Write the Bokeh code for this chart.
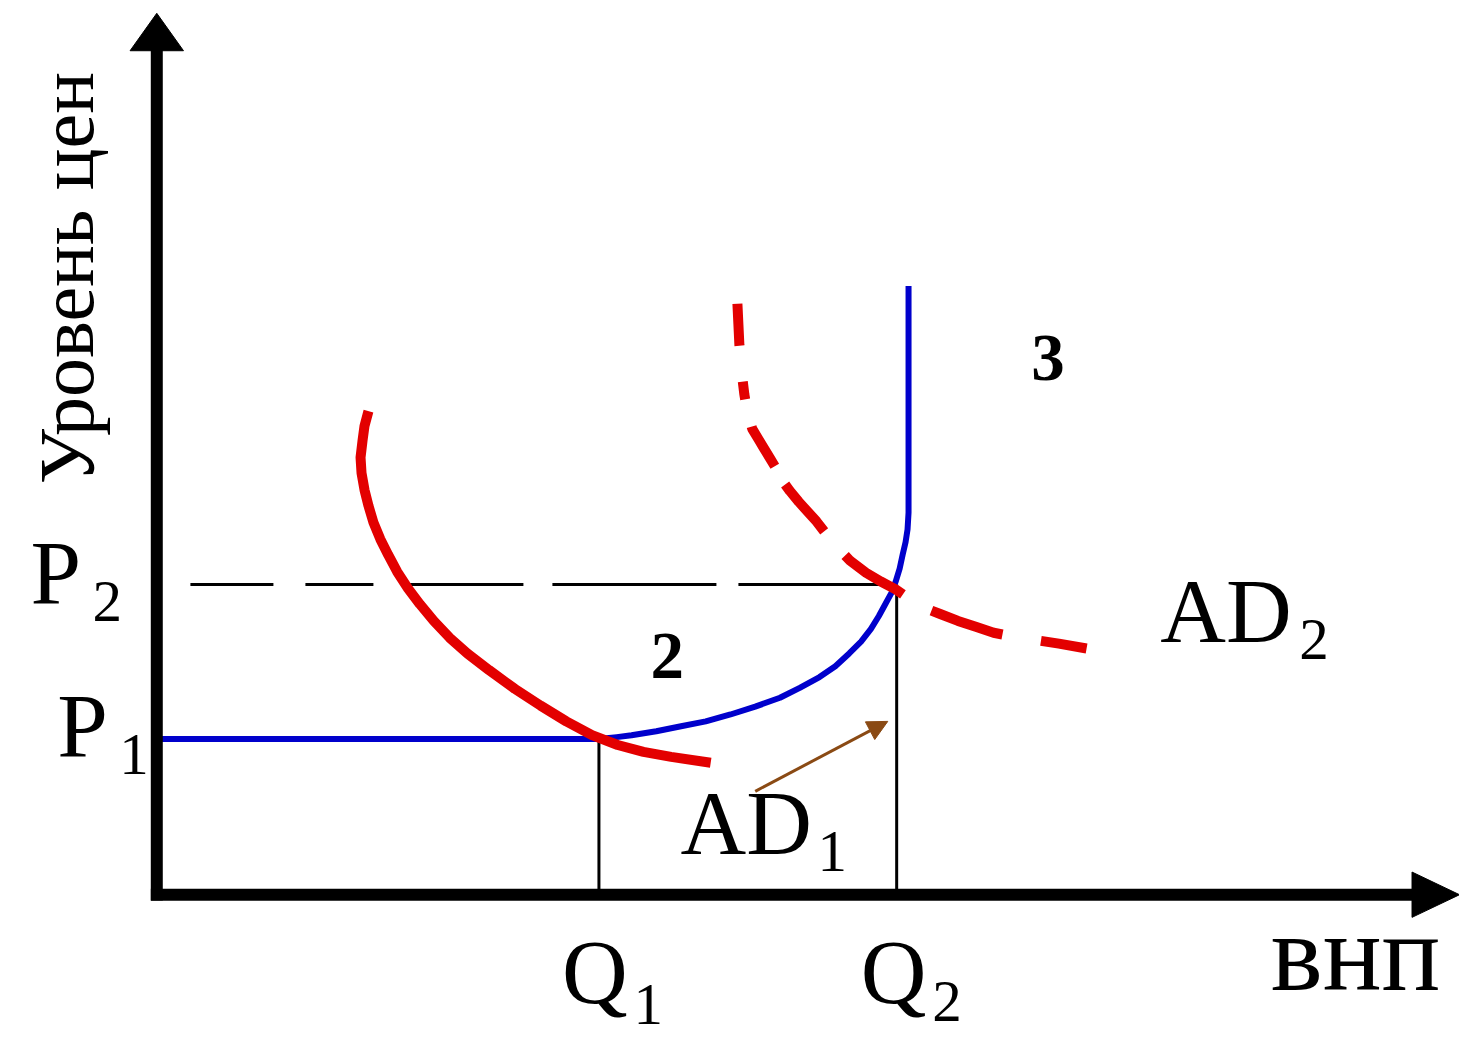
import math
from bokeh.plotting import figure
from bokeh.models import Range1d, Arrow, NormalHead
from bokeh.core.properties import value
from bokeh.embed import file_html
from bokeh.resources import INLINE

# ---- data (diagram units: origin at the axes' corner) ----
P_levels = [158, 315]          # P1, P2
Q_levels = [447, 748]          # Q1, Q2

# aggregate supply (blue): horizontal, then rising, then vertical
as_x = [0, 447, 465, 480, 505, 530, 555, 580, 605, 630, 650, 670, 686, 700, 712, 722,
        730, 737, 743, 747, 751, 754, 757, 759, 760, 760]
as_y = [158, 158, 160, 162, 166, 171, 176, 183, 191, 200, 210, 221, 232, 245, 257, 270,
        283, 296, 307, 318, 331, 345, 358, 371, 388, 618]

# AD1 (solid red)
ad1_x = [214, 210, 208, 206, 207, 210, 214, 219, 226, 234, 243, 254, 266, 280, 296, 314,
         336, 362, 388, 414, 440, 466, 492, 520, 560]
ad1_y = [491, 476, 461, 444, 428, 411, 395, 378, 361, 345, 328, 311, 295, 278, 261, 245,
         228, 209, 192, 176, 162, 152, 145, 140, 134]

# AD2 (dashed red)
ad2_x = [587, 588, 589, 591, 594, 597, 602, 608, 614, 620, 626, 632, 640, 649, 658, 667,
         677, 687, 701, 717, 732, 747, 760, 774, 792, 810, 828, 846, 866, 886, 912, 940]
ad2_y = [600, 579, 558, 533, 508, 490, 473, 463, 453, 443, 433, 421, 410, 399, 389, 379,
         366, 354, 339, 327, 318, 310, 301, 292, 285, 278, 272, 266, 262, 259, 255, 250]

# shift arrow (AD1 -> AD2)
shift_start = (605, 105)
shift_end = (739, 176)

# axes
x_axis_end = 1317
y_axis_end = 895

# texts
y_title = "Уровень цен"
x_title = "внп"
price_main = ["P", "P"]
price_sub = ["1", "2"]
qty_main = ["Q", "Q"]
qty_sub = ["1", "2"]
curve_main = ["AD", "AD"]
curve_sub = ["1", "2"]
region_labels = ["2", "3"]

# ---- figure ----
p = figure(width=1459, height=1037,
           x_range=Range1d(-158, 1317), y_range=Range1d(-145, 908),
           x_axis_type=None, y_axis_type=None,
           output_backend="svg", toolbar_location=None, min_border=0,
           outline_line_color=None, background_fill_color="white",
           border_fill_color="white")

BLACK = "black"
RED = "#e30000"
BLUE = "#0000cc"
BROWN = "#8a4a14"
SERIF = value("Liberation Serif")
K = 0.36  # baseline compensation (em)


def lift(size):
    return K * size


# guide lines
p.line([Q_levels[0], Q_levels[0]], [0, P_levels[0]], line_color=BLACK, line_width=3)
p.line([Q_levels[1], Q_levels[1]], [0, P_levels[1]], line_color=BLACK, line_width=3)
p.line([34, Q_levels[1]], [P_levels[1], P_levels[1]], line_color=BLACK, line_width=3,
       line_dash="83 32 68 36 114 29 164 22 160")

# curves
p.line(as_x, as_y, line_color=BLUE, line_width=6, line_join="round")
p.line(ad1_x, ad1_y, line_color=RED, line_width=10, line_join="round")
p.line(ad2_x, ad2_y, line_color=RED, line_width=10, line_join="round",
       line_dash="42 36 18 28 46 21 61 32 70 33 75 39 54 40")

# shift arrow
p.add_layout(Arrow(x_start=shift_start[0], y_start=shift_start[1],
                   x_end=shift_end[0], y_end=shift_end[1],
                   line_color=BROWN, line_width=3,
                   end=NormalHead(size=20, fill_color=BROWN, line_color=BROWN)))

# axes with arrow heads
yh_len, yh_half = 38, 27
xh_len, xh_half = 48, 23
p.line([0, 0], [-6, y_axis_end - yh_len + 2], line_color=BLACK, line_width=12)
p.line([-6, x_axis_end - xh_len + 2], [0, 0], line_color=BLACK, line_width=12)
p.patch([-yh_half, 0, yh_half], [y_axis_end - yh_len, y_axis_end, y_axis_end - yh_len],
        fill_color=BLACK, line_color=BLACK)
p.patch([x_axis_end - xh_len, x_axis_end, x_axis_end - xh_len], [xh_half, 0, -xh_half],
        fill_color=BLACK, line_color=BLACK)

MAIN, SUB, TITLE, XT, REG = 91, 59, 78, 110, 67

# axis titles
p.text(x=[-91], y=[626], text=[y_title], angle=math.pi / 2,
       text_font=SERIF, text_font_size=f"{TITLE}px", text_align="center",
       text_baseline="alphabetic", text_color=BLACK)
p.text(x=[1212], y=[-99 + lift(XT)], text=[x_title], text_font=SERIF,
       text_font_size=f"{XT}px", text_align="center", text_baseline="alphabetic",
       text_color=BLACK)

# price labels
p.text(x=[-75, -102], y=[P_levels[0] - 20 + lift(MAIN), P_levels[1] - 22 + lift(MAIN)],
       text=price_main, text_font=SERIF, text_font_size=f"{MAIN}px", text_align="center",
       text_baseline="alphabetic", text_color=BLACK)
p.text(x=[-38, -65], y=[P_levels[0] - 37 + lift(SUB), P_levels[1] - 39 + lift(SUB)],
       text=price_sub, text_font=SERIF, text_font_size=f"{SUB}px", text_align="left",
       text_baseline="alphabetic", text_color=BLACK)

# quantity labels
p.text(x=[Q_levels[0] - 4, Q_levels[1] - 3], y=[-112 + lift(MAIN)] * 2, text=qty_main,
       text_font=SERIF, text_font_size=f"{MAIN}px", text_align="center",
       text_baseline="alphabetic", text_color=BLACK)
p.text(x=[Q_levels[0] + 35, Q_levels[1] + 36], y=[-133 + lift(SUB), -130 + lift(SUB)],
       text=qty_sub, text_font=SERIF, text_font_size=f"{SUB}px", text_align="left",
       text_baseline="alphabetic", text_color=BLACK)

# curve labels
p.text(x=[596, 1081], y=[40 + lift(MAIN), 255 + lift(MAIN)], text=curve_main,
       text_font=SERIF, text_font_size=f"{MAIN}px", text_align="center",
       text_baseline="alphabetic", text_color=BLACK)
p.text(x=[668, 1155], y=[23 + lift(SUB), 238 + lift(SUB)], text=curve_sub,
       text_font=SERIF, text_font_size=f"{SUB}px", text_align="left",
       text_baseline="alphabetic", text_color=BLACK)

# region numbers
p.text(x=[516, 901], y=[218 + lift(REG), 521 + lift(REG)], text=region_labels,
       text_font=SERIF, text_font_size=f"{REG}px", text_font_style="bold",
       text_align="center", text_baseline="alphabetic", text_color=BLACK)

open("out.html", "w").write(file_html(p, INLINE))
